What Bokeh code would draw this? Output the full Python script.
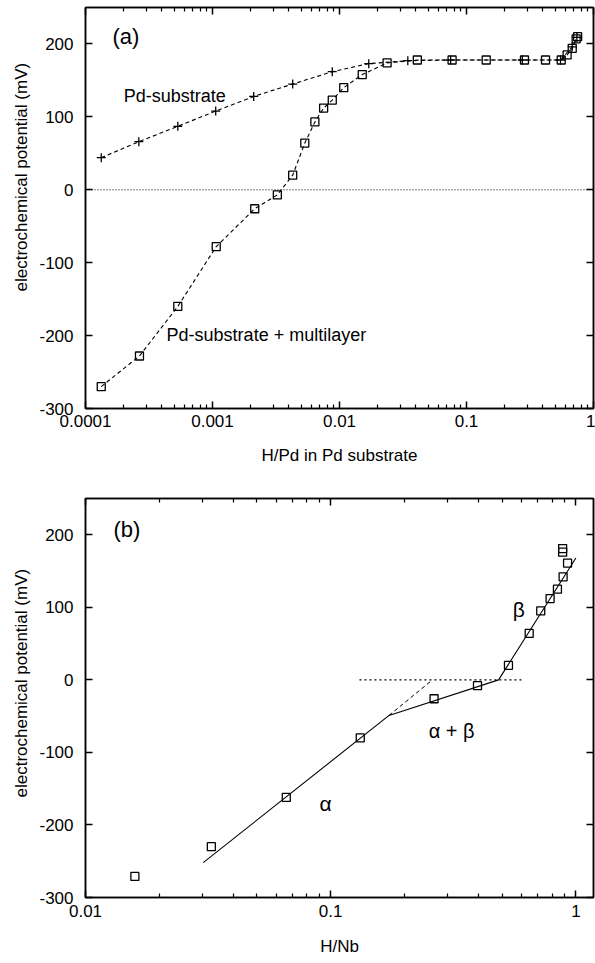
from bokeh.plotting import figure
from bokeh.models import (LogAxis, LinearAxis, FixedTicker, CustomJSTickFormatter, Range1d,
                          Span, Title)
from bokeh.layouts import column
from bokeh.embed import file_html
from bokeh.resources import INLINE
from bokeh.core.properties import value

FONT = "Liberation Sans"

# ---------------- panel (a) data ----------------
pd_sub_x = [1.33e-4, 2.63e-4, 5.33e-4, 1.06e-3, 2.11e-3, 4.28e-3, 8.77e-3, 0.017, 0.0345,
            0.075, 0.275, 0.55, 0.68, 0.74]
pd_sub_y = [44, 66, 87, 108, 128, 145, 162, 173, 177, 178, 178, 178, 196, 209]

multi_x = [1.33e-4, 2.66e-4, 5.33e-4, 1.07e-3, 2.15e-3, 3.24e-3, 4.28e-3, 5.33e-3, 6.4e-3,
           7.5e-3, 8.77e-3, 0.0108, 0.0151, 0.0237, 0.041, 0.077, 0.143, 0.286, 0.419,
           0.557, 0.62, 0.68, 0.73, 0.75]
multi_y = [-270, -228, -160, -78, -26, -7, 20, 64, 93, 112, 123, 140, 158, 174, 178, 178,
           178, 178, 178, 178, 185, 194, 207, 210]

a_text = ["(a)", "Pd-substrate", "Pd-substrate + multilayer"]
a_text_x = [1.63e-4, 2.0e-4, 4.35e-4]
a_text_y = [210, 129, -199]
a_text_size = ["22px", "18px", "18px"]

a_xticks = [1e-4, 1e-3, 1e-2, 1e-1, 1.0]
a_xtick_labels = ["0.0001", "0.001", "0.01", "0.1", "1"]

# ---------------- panel (b) data ----------------
nb_x = [0.0159, 0.0326, 0.0659, 0.132, 0.264, 0.397, 0.531, 0.645, 0.719, 0.785, 0.841,
        0.887, 0.925, 0.883, 0.883]
nb_y = [-271, -230, -162, -80, -26, -8, 20, 64, 95, 112, 125, 142, 161, 176, 181]

fit_x = [0.0302, 0.173, 0.484, 1.0]
fit_y = [-252, -49, 0, 168]
ext_x = [0.173, 0.26]
ext_y = [-49, 0]
plateau_x = [0.131, 0.605]
plateau_y = [0, 0]

b_text = ["(b)", "\u03b2", "\u03b1 + \u03b2", "\u03b1"]
b_text_x = [0.013, 0.553, 0.251, 0.09]
b_text_y = [207, 97, -71, -170]
b_text_size = ["22px", "21px", "20px", "21px"]

b_xticks = [0.01, 0.1, 1.0]
b_xtick_labels = ["0.01", "0.1", "1"]

yticks = [-300, -200, -100, 0, 100, 200]
ytick_labels = ["-300", "-200", "-100", "0", "100", "200"]

y_label = "electrochemical potential (mV)"


def minor_for(decades):
    return [m * 10.0 ** d for d in decades for m in range(2, 10)]


def label_fmt(tvals, tlabels, log):
    code = """
    for (let i = 0; i < tv.length; i++) {
        const a = LOG ? Math.log10(tick) : tick;
        const b = LOG ? Math.log10(tv[i]) : tv[i];
        if (Math.abs(a - b) < 1e-6) { return tl[i]; }
    }
    return '';
    """.replace("LOG", "true" if log else "false")
    return CustomJSTickFormatter(args=dict(tv=tvals, tl=tlabels), code=code)


def style_axis(ax, show_labels=True):
    ax.axis_line_color = "black"
    ax.axis_line_width = 1.5
    ax.major_tick_line_color = "black"
    ax.major_tick_line_width = 1.5
    ax.major_tick_in = 7
    ax.major_tick_out = 0
    ax.minor_tick_line_color = "black"
    ax.minor_tick_line_width = 1.2
    ax.minor_tick_in = 4
    ax.minor_tick_out = 0
    ax.major_label_text_font = FONT
    ax.major_label_text_font_size = "17px"
    ax.major_label_text_color = "black"
    ax.axis_label_text_font = FONT
    ax.axis_label_text_font_size = "17px"
    ax.axis_label_text_font_style = "normal"
    ax.axis_label_text_color = "black"
    if not show_labels:
        ax.major_label_text_font_size = "0px"
        ax.major_label_standoff = 0


def make_panel(xr, height, top_border, bottom_border, xticks, xlabels, minor, xlabel,
               tick_standoff, label_standoff, ylabel_offset):
    p = figure(x_axis_type="log", x_range=xr, y_range=Range1d(-300, 250),
               width=595, height=height, output_backend="svg", toolbar_location=None,
               min_border_left=85, min_border_right=2, min_border_top=top_border,
               min_border_bottom=bottom_border)
    p.xgrid.visible = False
    p.ygrid.visible = False
    p.outline_line_color = "black"
    p.outline_line_width = 1.5
    p.background_fill_color = "white"
    p.border_fill_color = "white"

    xa = p.xaxis[0]
    xa.ticker = FixedTicker(ticks=xticks, minor_ticks=minor)
    xa.formatter = label_fmt(xticks, xlabels, True)
    xa.axis_label = xlabel
    style_axis(xa)
    xa.major_label_standoff = tick_standoff
    xa.axis_label_standoff = label_standoff

    ya = p.yaxis[0]
    ya.ticker = FixedTicker(ticks=yticks, minor_ticks=[])
    ya.formatter = label_fmt(yticks, ytick_labels, False)
    style_axis(ya)
    ya.major_label_standoff = 12

    # y-axis title as a side title, so it can sit where the original has it
    p.add_layout(Title(text=y_label, align="left", offset=ylabel_offset,
                       text_font=FONT, text_font_size="17px", text_font_style="normal",
                       text_color="black", standoff=12), "left")

    top = LogAxis(ticker=FixedTicker(ticks=xticks, minor_ticks=minor),
                  formatter=label_fmt(xticks, ["" for _ in xticks], True))
    style_axis(top, show_labels=False)
    p.add_layout(top, "above")
    right = LinearAxis(ticker=FixedTicker(ticks=yticks, minor_ticks=[]),
                       formatter=label_fmt(yticks, ["" for _ in yticks], False))
    style_axis(right, show_labels=False)
    p.add_layout(right, "right")
    return p


# ---------------- panel (a) ----------------
pa = make_panel(Range1d(1e-4, 1.0), 474, 7, 66, a_xticks, a_xtick_labels,
                minor_for([-4, -3, -2, -1]), "H/Pd in Pd substrate", 6, 16, 117)
pa.add_layout(Span(location=0, dimension="width", line_color="black",
                   line_dash="1 2", line_width=1))
pa.line(pd_sub_x, pd_sub_y, line_color="black", line_dash="4 3", line_width=1.1)
pa.line(multi_x, multi_y, line_color="black", line_dash="4 3", line_width=1.1)
pa.scatter(pd_sub_x, pd_sub_y, marker="cross", size=9, line_color="black", line_width=1.3)
pa.scatter(multi_x, multi_y, marker="square", size=8, fill_color=None,
           line_color="black", line_width=1.3)
pa.text(x=a_text_x, y=a_text_y, text=a_text, text_font=value(FONT),
        text_font_size=a_text_size, text_baseline="middle", text_align="left",
        text_color="black")

# ---------------- panel (b) ----------------
pb = make_panel(Range1d(0.01, 1.18), 488, 24, 65, b_xticks, b_xtick_labels,
                minor_for([-2, -1]), "H/Nb", 7, 17, 100)
pb.line(plateau_x, plateau_y, line_color="black", line_dash="2 3", line_width=1.1)
pb.line(ext_x, ext_y, line_color="black", line_dash="4 3", line_width=1)
pb.line(fit_x, fit_y, line_color="black", line_width=1.1)
pb.scatter(nb_x, nb_y, marker="square", size=8, fill_color=None,
           line_color="black", line_width=1.3)
pb.text(x=b_text_x, y=b_text_y, text=b_text, text_font=value(FONT),
        text_font_size=b_text_size, text_baseline="middle", text_align="left",
        text_color="black")

layout = column(pa, pb, spacing=0)
open("out.html", "w").write(file_html(layout, INLINE))
